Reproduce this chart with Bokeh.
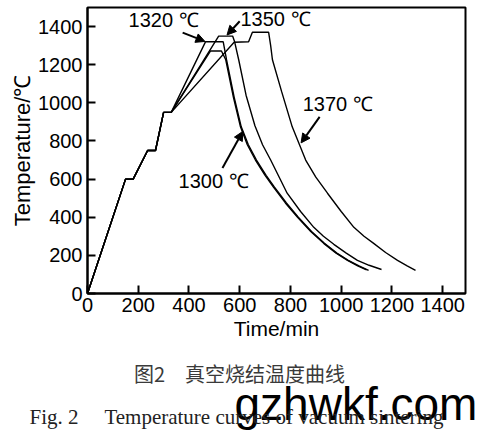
from bokeh.plotting import figure
from bokeh.layouts import column
from bokeh.models import Range1d, Label, Arrow, NormalHead, FixedTicker
from bokeh.embed import file_html
from bokeh.resources import INLINE

# ---- data ----
time_common = [0, 150, 180, 237, 268, 300, 330]
temp_common = [0, 600, 600, 750, 750, 950, 950]

time_1300 = [485, 528, 545, 575, 603, 630, 662, 700, 733, 780, 828, 880, 931, 980, 1025, 1065, 1100]
temp_1300 = [1272, 1272, 1226, 1030, 874, 780, 700, 620, 558, 475, 400, 325, 263, 212, 174, 145, 124]

time_1320 = [465, 535, 548, 578, 606, 634, 666, 704, 737, 784, 831, 883, 934, 983, 1028, 1070, 1108]
temp_1320 = [1320, 1320, 1226, 1030, 874, 780, 700, 620, 558, 475, 400, 325, 263, 212, 174, 145, 121]

time_1350 = [517, 572, 580, 596, 625, 660, 690, 722, 787, 840, 892, 930, 971, 1020, 1064, 1110, 1159]
temp_1350 = [1350, 1350, 1320, 1226, 1040, 880, 780, 700, 526, 430, 347, 300, 258, 212, 174, 148, 126]

time_1370 = [578, 635, 650, 714, 722, 729, 765, 807, 860, 900, 946, 1000, 1050, 1090, 1128, 1175, 1222, 1260, 1293]
temp_1370 = [1318, 1320, 1370, 1370, 1300, 1226, 1060, 874, 700, 610, 526, 430, 347, 300, 263, 215, 174, 145, 121]

x_ticks = [0, 200, 400, 600, 800, 1000, 1200, 1400]
y_ticks = [0, 200, 400, 600, 800, 1000, 1200, 1400]

labels = ["1300 \u2103", "1320 \u2103", "1350 \u2103", "1370 \u2103"]

caption_cn = "\u56fe2\u3000\u771f\u7a7a\u70e7\u7ed3\u6e29\u5ea6\u66f2\u7ebf"
caption_en = "Fig. 2\u2003 Temperature curves of vacuum sintering"
watermark = "gzhwkf.com"

FONT = "Liberation Sans"

p = figure(width=478, height=345, output_backend="svg", toolbar_location=None,
           x_range=Range1d(0, 1490), y_range=Range1d(0, 1500),
           min_border_left=87, min_border_right=13, min_border_top=7,
           min_border_bottom=52)
p.frame_align = False
p.background_fill_color = "white"
p.border_fill_color = "white"
p.outline_line_color = "black"
p.outline_line_width = 2
p.xgrid.visible = False
p.ygrid.visible = False

for ax, ticks in ((p.xaxis, x_ticks), (p.yaxis, y_ticks)):
    ax.ticker = FixedTicker(ticks=ticks)
    ax.major_tick_in = 8
    ax.major_tick_out = 0
    ax.minor_tick_in = 0
    ax.minor_tick_out = 0
    ax.axis_line_width = 2
    ax.major_tick_line_width = 2
    ax.major_label_text_font = FONT
    ax.major_label_text_font_size = "20px"
    ax.major_label_text_color = "black"
    ax.axis_label_text_font = FONT
    ax.axis_label_text_font_style = "normal"
    ax.axis_label_text_color = "black"

p.xaxis.axis_label = "Time/min"
p.yaxis.axis_label = "Temperature/\u2103"
p.xaxis.axis_label_text_font_size = "21px"
p.yaxis.axis_label_text_font_size = "22px"
p.xaxis.major_label_standoff = 4
p.yaxis.major_label_standoff = 5
p.xaxis.axis_label_standoff = 2
p.yaxis.axis_label_standoff = 0

curves = [
    (time_1300, temp_1300),
    (time_1320, temp_1320),
    (time_1350, temp_1350),
    (time_1370, temp_1370),
]
for tt, TT in curves:
    p.line(time_common + tt, temp_common + TT, line_color="black", line_width=1.4)

# curve labels and arrows
lab_pos = [(359, 589), (162, 1437), (603, 1442), (848, 995)]
arrows = [((532, 658), (612, 850)),
          ((375, 1368), (463, 1322)),
          ((600, 1428), (550, 1356)),
          ((915, 926), (842, 790))]
for txt, (lx, ly) in zip(labels, lab_pos):
    p.add_layout(Label(x=lx, y=ly, text=txt, text_font=FONT, text_font_size="20px",
                       text_color="black", text_baseline="middle", text_align="left"))
for (x0, y0), (x1, y1) in arrows:
    p.add_layout(Arrow(end=NormalHead(size=9, fill_color="black", line_color="black"),
                       x_start=x0, y_start=y0, x_end=x1, y_end=y1,
                       line_color="black", line_width=2))

# caption panel below the chart
cap = figure(width=478, height=85, output_backend="svg", toolbar_location=None,
             x_range=Range1d(0, 478), y_range=Range1d(0, 85),
             x_axis_type=None, y_axis_type=None,
             min_border_left=0, min_border_right=0, min_border_top=0, min_border_bottom=0)
cap.frame_align = False
cap.outline_line_color = None
cap.xgrid.visible = False
cap.ygrid.visible = False
cap.background_fill_color = "white"
cap.border_fill_color = "white"

cap.add_layout(Label(x=239, y=57, text=caption_cn,
                     text_font="Noto Sans CJK SC", text_font_size="20px", text_color="#3a3a3a",
                     text_align="center", text_baseline="middle"))
cap.add_layout(Label(x=234, y=27, text=watermark, text_font=FONT, text_font_size="46px",
                     text_color="black", text_align="left", text_baseline="alphabetic"))
cap.add_layout(Label(x=29, y=14, text=caption_en,
                     text_font="Liberation Serif", text_font_size="21px", text_color="#222222",
                     text_align="left", text_baseline="alphabetic"))

layout = column(p, cap, spacing=0)
open("out.html", "w").write(file_html(layout, INLINE))
